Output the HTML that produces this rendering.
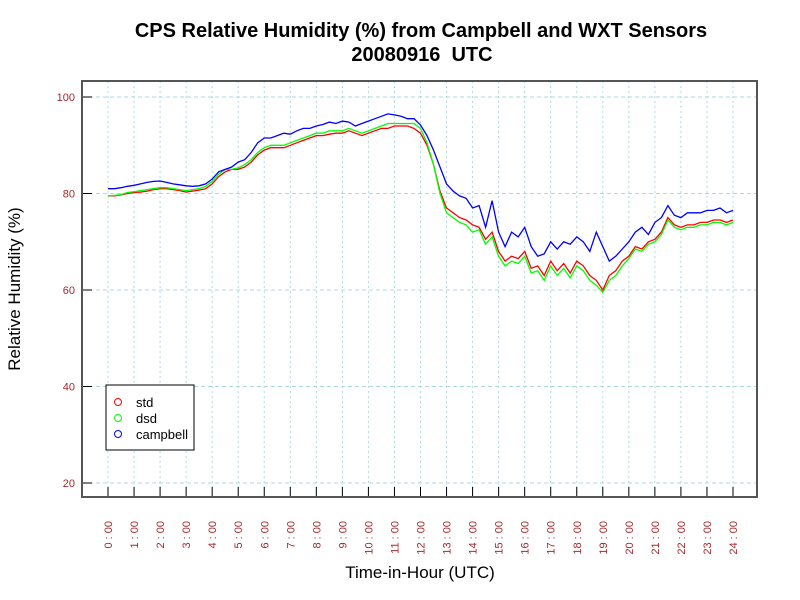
<!DOCTYPE html>
<html><head><meta charset="utf-8"><style>body{margin:0;background:#fff}svg{display:block;font-family:"Liberation Sans",sans-serif}</style></head>
<body>
<svg id="c" width="800" height="600">
<rect width="800" height="600" fill="#fff"/>
<text x="421" y="37" text-anchor="middle" font-size="20" font-weight="bold">CPS Relative Humidity (%) from Campbell and WXT Sensors</text>
<text x="422" y="61" text-anchor="middle" font-size="20" font-weight="bold" style="white-space:pre">20080916  UTC</text>
<g id="grid"></g>
<g id="series"></g>
<g id="axes"></g>
<rect x="82" y="81" width="675" height="416" fill="none" stroke="#555" stroke-width="2"/>
<text transform="translate(20,289) rotate(-90)" text-anchor="middle" font-size="17">Relative Humidity (%)</text>
<text x="420" y="578" text-anchor="middle" font-size="17">Time-in-Hour (UTC)</text>
<g>
<rect x="106" y="385" width="88" height="65" fill="#fff" stroke="#000"/>
<circle cx="118" cy="402" r="3.5" fill="none" stroke="red"/>
<text x="136" y="407" font-size="13">std</text>
<circle cx="118" cy="418" r="3.5" fill="none" stroke="#0f0"/>
<text x="136" y="423" font-size="13">dsd</text>
<circle cx="118" cy="434" r="3.5" fill="none" stroke="blue"/>
<text x="136" y="439" font-size="13">campbell</text>
</g>
</svg>
<script>
const yTicks=[20,40,60,80,100];
const hourTicks=[0,1,2,3,4,5,6,7,8,9,10,11,12,13,14,15,16,17,18,19,20,21,22,23,24];
const campbell=[81,81,81.2,81.5,81.7,82,82.3,82.5,82.6,82.3,82,81.8,81.6,81.5,81.6,82,83,
84.5,85,85.5,86.5,87,88.5,90.5,91.5,91.5,92,92.5,92.3,93,93.5,93.5,94,
94.3,94.8,94.5,95,94.8,94,94.5,95,95.5,96,96.5,96.3,96,95.5,95.5,94.2,
92,89,85.5,82,80.5,79.5,79,77,77.5,73,78.5,72,69,72,71,73,
69,67,67.5,70,68.5,70,69.5,71,70,68,72,69,66,67,68.5,70,
72,73,71.5,74,75,77.5,75.5,75,76,76,76,76.5,76.5,77,76,76.5];
const std=[79.5,79.5,79.7,80,80.2,80.3,80.5,80.8,81,81,80.8,80.6,80.3,80.5,80.7,81,82,
83.5,84.5,85,85,85.5,86.5,88,89,89.5,89.5,89.5,90,90.5,91,91.5,92,
92,92.3,92.5,92.5,93,92.5,92,92.5,93,93.5,93.5,94,94,94,93.5,92.5,
90,86,80.5,77,76,75,74.5,73.5,73,70.5,72,68,66,67,66.5,68,
64.5,65,63,66,64,65.5,63.5,66,65,63,62,60,63,64,66,67,
69,68.5,70,70.5,72,75,73.5,73,73.5,73.5,74,74,74.5,74.5,74,74.5];
const dsd=[79.5,79.6,79.8,80.2,80.4,80.6,80.8,81,81.2,81.2,81,80.8,80.6,80.8,81,81.5,82.5,
84,85,85,85.3,86,87,88.5,89.5,90,90,90,90.5,91,91.5,92,92.5,
92.5,93,93,93,93.5,93,92.5,93,93.5,94,94.5,94.5,94.5,94.5,94.5,93.5,
90.5,86,80,76,75,74,73.5,72,72.5,69.5,71,67,65,66,65.5,67,
63.5,64,62,65,63,64.5,62.5,65,64,62,61,59.5,62,63,65,66.5,
68.5,68,69.5,70,71.5,74.5,73,72.5,73,73,73.5,73.5,74,74,73.5,74];
const NS="http://www.w3.org/2000/svg";
const xs=h=>108+h*(625/24);
const ys=v=>97+(100-v)*(386/80);
function mk(t,a,p){const e=document.createElementNS(NS,t);for(const k in a)e.setAttribute(k,a[k]);p.appendChild(e);return e;}
const grid=document.getElementById('grid'),axes=document.getElementById('axes'),ser=document.getElementById('series');
yTicks.forEach(v=>{
 const l=mk('line',{x1:82,x2:757,y1:ys(v),y2:ys(v),stroke:'#add8e6','stroke-dasharray':'4,3'},grid);
 
 
 const t=mk('line',{x1:82,x2:92,y1:ys(v),y2:ys(v),stroke:'#000'},axes);
 
 
 const tx=mk('text',{x:75,y:ys(v)+4,'text-anchor':'end','font-size':11,fill:'#a52a2a'},axes);
 tx.textContent=v;
 
 
});
hourTicks.forEach(h=>{
 const l=mk('line',{x1:xs(h),x2:xs(h),y1:81,y2:497,stroke:'#add8e6','stroke-dasharray':'2,3'},grid);
 
 
 const t=mk('line',{x1:xs(h),x2:xs(h),y1:487,y2:497,stroke:'#000'},axes);
 
 
 const tx=mk('text',{transform:`translate(${xs(h)+4},521) rotate(-90)`,'text-anchor':'end','font-size':11,fill:'#a52a2a'},axes);
 tx.textContent=h+' : 00';
 
 
});
function line(d,c,n){
 const pts=d.map((v,i)=>xs(i*24/(d.length-1)).toFixed(1)+','+ys(v).toFixed(1)).join(' ');
 const p=mk('polyline',{points:pts,fill:'none',stroke:c,'stroke-width':1.3},ser);
 
 
}
line(std,'red','line-std');line(dsd,'#00ff00','line-dsd');line(campbell,'blue','line-campbell');
</script>
</body></html>
